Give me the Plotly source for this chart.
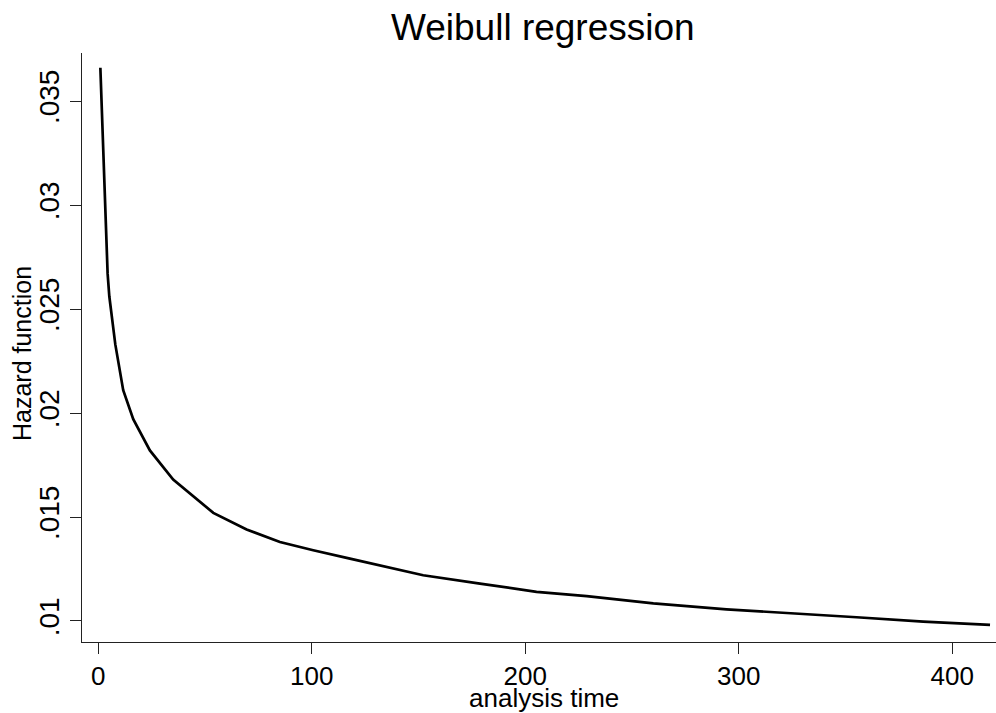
import plotly.graph_objects as go

# Values
analysis_time = [1, 1.6, 3.1, 4.4, 5.2, 8, 11.7, 16.4, 24.2, 35.1, 53.9, 69.5, 85.1,
                 100.7, 117.9, 152.2, 178.8, 205.3, 228.8, 260, 294.3, 327.1, 355.2,
                 386.4, 417.7]
hazard = [0.0366, 0.0347, 0.0299, 0.0267, 0.0256, 0.0233, 0.0211, 0.0197, 0.0182,
          0.0168, 0.0152, 0.0144, 0.0138, 0.0134, 0.0130, 0.0122, 0.0118, 0.0114,
          0.0112, 0.01085, 0.01056, 0.01037, 0.01018, 0.00997, 0.00981]

x_tickvals = [0, 100, 200, 300, 400]
x_ticktext = ["0", "100", "200", "300", "400"]
y_tickvals = [0.01, 0.015, 0.02, 0.025, 0.03, 0.035]
y_ticktext = [".01", ".015", ".02", ".025", ".03", ".035"]

FONT = "Arial, Liberation Sans, Helvetica, sans-serif"

fig = go.Figure()
fig.add_trace(go.Scatter(x=analysis_time, y=hazard, mode="lines",
                         line=dict(color="black", width=2.7), showlegend=False))

fig.update_layout(
    width=996, height=713,
    margin=dict(l=82, r=0, t=53, b=71, autoexpand=False),
    paper_bgcolor="white", plot_bgcolor="white",
    font=dict(family=FONT, color="black"),
    title=dict(text="Weibull regression", x=0.545, xanchor="center",
               y=0.962, yanchor="middle", font=dict(size=37, family=FONT)),
)
fig.update_xaxes(
    range=[-7.6, 420.5], tickvals=x_tickvals, ticktext=x_ticktext,
    showgrid=False, zeroline=False, showline=True, linecolor="#222", linewidth=1.3,
    ticks="outside", ticklen=11, tickwidth=1.3, tickcolor="#222",
    tickfont=dict(size=26), automargin=False,
)
fig.update_yaxes(
    range=[0.00899, 0.03731], tickvals=y_tickvals, ticktext=y_ticktext,
    showgrid=False, zeroline=False, showline=True, linecolor="#222", linewidth=1.3,
    ticks="outside", ticklen=11, tickwidth=1.3, tickcolor="#222",
    tickangle=-90, tickfont=dict(size=28), automargin=False,
)
# axis titles placed as annotations for exact positioning
fig.add_annotation(text="analysis time", xref="paper", yref="paper",
                   x=0.5055, y=-0.0955, xanchor="center", yanchor="middle",
                   showarrow=False, font=dict(size=26))
fig.add_annotation(text="Hazard function", xref="paper", yref="paper",
                   x=-0.0656, y=0.489, xanchor="center", yanchor="middle",
                   textangle=-90, showarrow=False, font=dict(size=25))

fig.write_html("out.html", config={"displayModeBar": False},
               post_script="document.body.style.margin='0';document.body.style.overflow='hidden';")
